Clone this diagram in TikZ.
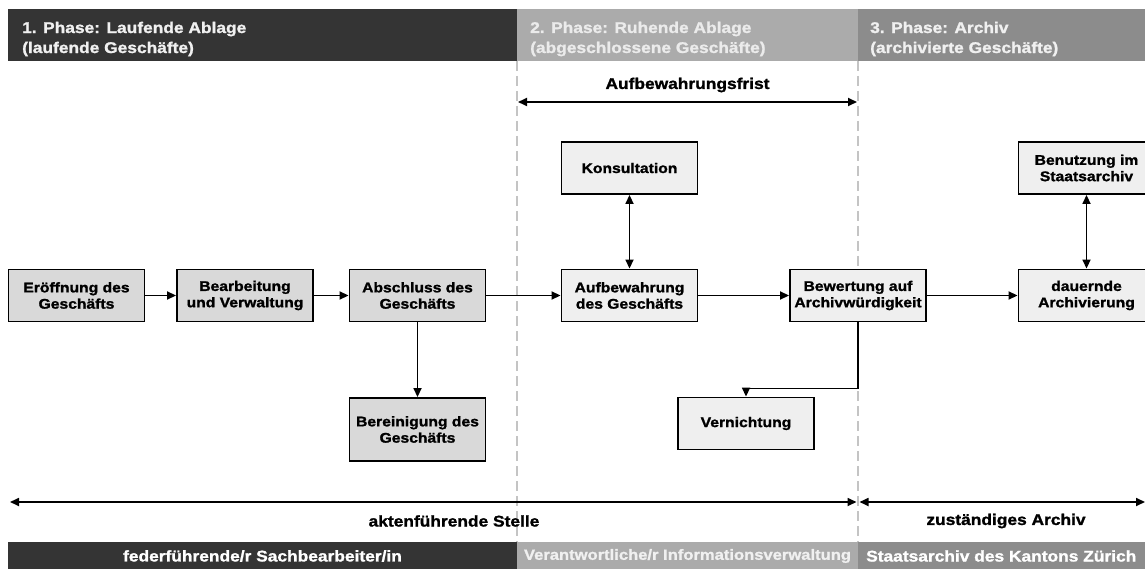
\documentclass[tikz,border=0pt]{standalone}
\usepackage{fontspec}
\newfontfamily\hv[FakeStretch=1.12, BoldFeatures={FakeBold=1.4}]{Liberation Sans}
\usetikzlibrary{arrows.meta}
\definecolor{bandA}{HTML}{343434}
\definecolor{bandB}{HTML}{ABABAB}
\definecolor{bandC}{HTML}{8C8C8C}
\definecolor{boxdark}{HTML}{D9D9D9}
\definecolor{boxlight}{HTML}{EFEFEF}
\definecolor{dashgray}{HTML}{C4C4C4}
\begin{document}
\begin{tikzpicture}[x=1pt,y=-1pt,
  box/.style={draw=black, line width=1.9pt, minimum width=136pt, minimum height=52pt,
    align=center, inner sep=2pt, font=\hv\bfseries\fontsize{14}{16.3}\selectfont},
  boxd/.style={box, fill=boxdark},
  boxl/.style={box, fill=boxlight},
  arr/.style={line width=1.7pt, -{Triangle[length=9pt,width=8pt]}},
  darr/.style={line width=1.7pt, {Triangle[length=9pt,width=8pt]}-{Triangle[length=9pt,width=8pt]}},
  hdr/.style={anchor=west, align=left, inner sep=0pt, font=\hv\bfseries\fontsize{15.5}{20}\selectfont},
  ftr/.style={inner sep=0pt, text=white, font=\hv\bfseries\fontsize{15.5}{18}\selectfont},
  lbl/.style={inner sep=0pt, font=\hv\bfseries\fontsize{15.5}{18}\selectfont},
  sep/.style={dashgray, line width=1.5pt, dash pattern=on 10pt off 5pt}
]
\clip (0,0) rectangle (1145,569);
\fill[white] (0,0) rectangle (1145,569);

% header bands
\fill[bandA] (8,9.5) rectangle (517,61);
\fill[bandB] (517,9.5) rectangle (858,61);
\fill[bandC] (858,9.5) rectangle (1145,61);
\node[hdr, text=white!94!black] (h1) at (22,39) {1. Phase: Laufende Ablage\\(laufende Geschäfte)};
\node[hdr, text=white!92!black] (h2) at (530,39) {2. Phase: Ruhende Ablage\\(abgeschlossene Geschäfte)};
\node[hdr, text=white!94!black] (h3) at (870,39) {3. Phase: Archiv\\(archivierte Geschäfte)};

% footer bands
\fill[bandA] (8,541.7) rectangle (517,569);
\fill[bandB] (517,541.7) rectangle (858,569);
\fill[bandC] (858,541.7) rectangle (1145,569);
\node[ftr] (f1) at (262.5,556) {federführende/r Sachbearbeiter/in};
\node[ftr, text=white!94!black, font=\hv\bfseries\fontsize{14.8}{18}\selectfont] (f2) at (687.5,556) {Verantwortliche/r Informationsverwaltung};
\node[ftr, anchor=west] (f3) at (866,556) {Staatsarchiv des Kantons Zürich};

% dashed separators
\coordinate (s1t) at (517,61);
\coordinate (s1b) at (517,541.7);
\coordinate (s2t) at (858,61);
\coordinate (s2b) at (858,541.7);
\draw[sep] (s1t) -- (s1b);
\draw[sep] (s2t) -- (s2b);

% boxes
\node[boxd] (eroeff) at (76.5,295.5) {Eröffnung des\\Geschäfts};
\node[boxd] (bearb) at (245,295.5) {Bearbeitung\\und Verwaltung};
\node[boxd] (absch) at (417.5,295.5) {Abschluss des\\Geschäfts};
\node[boxd, minimum height=63pt] (berein) at (417.5,429.5) {Bereinigung des\\Geschäfts};
\node[boxl] (aufbew) at (629.5,295.5) {Aufbewahrung\\des Geschäfts};
\node[boxl] (konsult) at (629.5,168) {Konsultation};
\node[boxl] (bewert) at (858,295.5) {Bewertung auf\\Archivwürdigkeit};
\node[boxl] (vernicht) at (746,423.5) {Vernichtung};
\node[boxl] (dauernd) at (1086.5,295.5) {dauernde\\Archivierung};
\node[boxl] (benutz) at (1086.5,168) {Benutzung im\\Staatsarchiv};

% connectors
\draw[arr] (eroeff) -- (bearb);
\draw[arr] (bearb) -- (absch);
\draw[arr] (absch) -- (aufbew);
\draw[arr] (aufbew) -- (bewert);
\draw[arr] (bewert) -- (dauernd);
\draw[arr] (absch) -- (berein);
\draw[darr] (konsult) -- (aufbew);
\draw[darr] (benutz) -- (dauernd);
\draw[arr] (bewert.south) -- ++(0,66) -| (vernicht.north);

% spans
\coordinate (fa) at (518,102);
\coordinate (fb) at (857,102);
\draw[darr] (fa) -- (fb);
\node[lbl] (fl) at (687.5,85) {Aufbewahrungsfrist};

\coordinate (aa) at (10,502);
\coordinate (ab) at (856.5,502);
\draw[darr] (aa) -- (ab);
\node[lbl] (al) at (454,521) {aktenführende Stelle};

\coordinate (za) at (859.5,502);
\coordinate (zb) at (1145,502);
\draw[darr] (za) -- (zb);
\node[lbl] (zl) at (1006,521) {zuständiges Archiv};
\end{tikzpicture}
\end{document}
